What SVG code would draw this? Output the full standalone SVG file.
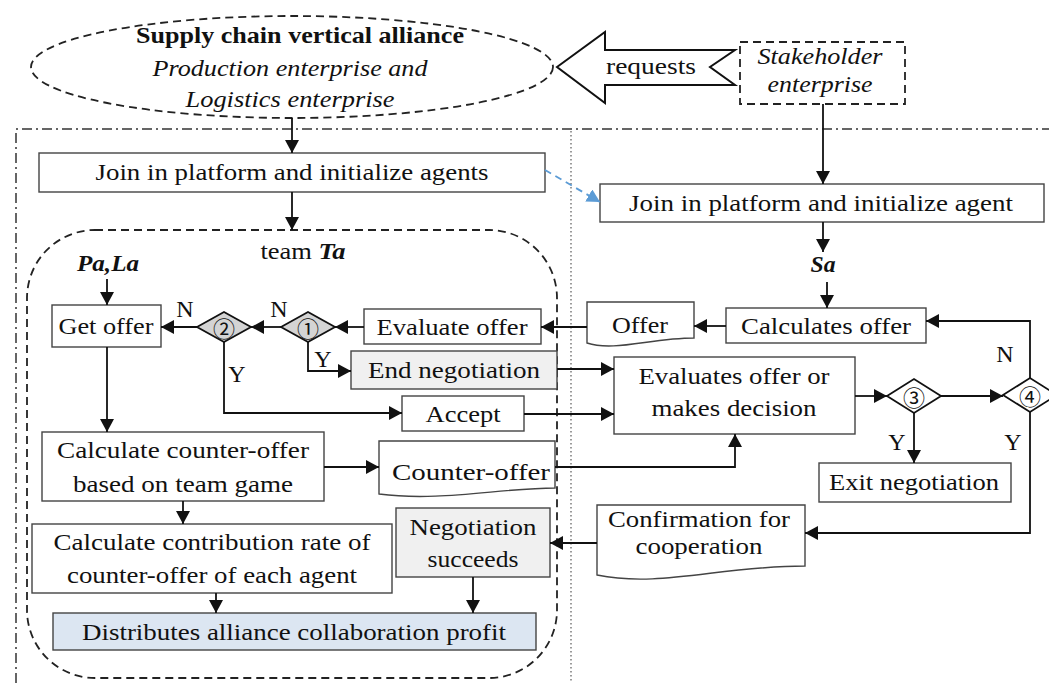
<svg xmlns="http://www.w3.org/2000/svg" width="1049" height="683" viewBox="0 0 1049 683">
<style>
text{font-family:"Liberation Serif","Times New Roman",serif;font-size:24px;fill:#111;text-anchor:middle}
.it{font-style:italic}
.b{font-weight:bold}
.num{font-family:"Noto Sans CJK SC","DejaVu Sans",sans-serif;font-size:22px;dominant-baseline:central}
.box{fill:#fff;stroke:#444;stroke-width:1.4}
.gray{fill:#f0f0f0;stroke:#444;stroke-width:1.4}
.blue{fill:#dce6f2;stroke:#444;stroke-width:1.4}
.dia{fill:#d4d4d4;stroke:#111;stroke-width:1.8}
.diaw{fill:#fff;stroke:#111;stroke-width:1.8}
.dash{fill:none;stroke:#222;stroke-width:1.8;stroke-dasharray:8 5}
.con{fill:none;stroke:#111;stroke-width:1.8}
</style>
<defs>
<marker id="ah" markerUnits="userSpaceOnUse" markerWidth="14" markerHeight="14" refX="13" refY="7" orient="auto">
<path d="M0,0 L13,7 L0,14 z" fill="#111"/>
</marker>
<marker id="ahb" markerUnits="userSpaceOnUse" markerWidth="14" markerHeight="14" refX="13" refY="7" orient="auto">
<path d="M0,0 L13,7 L0,14 z" fill="#5b9bd5"/>
</marker>
</defs>

<!-- frame lines -->
<g id="frame">
<path d="M16,683 V129 H1049" fill="none" stroke="#333" stroke-width="1.5" stroke-dasharray="10 4 2 4"/>
<path d="M571,131 V683" fill="none" stroke="#666" stroke-width="1.3" stroke-dasharray="1.5 2.5"/>
<rect id="team" x="27" y="230" width="530" height="448" rx="68" ry="68" class="dash"/>
<text x="303" y="259" textLength="85" lengthAdjust="spacingAndGlyphs">team <tspan class="it b">Ta</tspan></text>
</g>

<g id="alliance">
<ellipse cx="292" cy="67" rx="261" ry="51" fill="#fff" class="dash"/>
<text x="300" y="43" class="b" textLength="328" lengthAdjust="spacingAndGlyphs">Supply chain vertical alliance</text>
<text x="290" y="76" class="it" textLength="275" lengthAdjust="spacingAndGlyphs">Production enterprise and</text>
<text x="290" y="107" class="it" textLength="209" lengthAdjust="spacingAndGlyphs">Logistics enterprise</text>
</g>

<g id="requests">
<polygon points="557,67 605,32 605,50 735,50 710,67 735,85 605,85 605,103" fill="#fff" stroke="#111" stroke-width="2"/>
<text x="651" y="74" textLength="90" lengthAdjust="spacingAndGlyphs">requests</text>
</g>

<g id="stakeholder">
<rect x="740" y="42" width="165" height="62" fill="#fff" class="dash"/>
<text x="820" y="64" class="it" textLength="125" lengthAdjust="spacingAndGlyphs">Stakeholder</text>
<text x="820" y="92" class="it" textLength="105" lengthAdjust="spacingAndGlyphs">enterprise</text>
</g>

<g id="join1">
<rect x="39" y="153" width="506" height="39" class="box"/>
<text x="292" y="180" textLength="393" lengthAdjust="spacingAndGlyphs">Join in platform and initialize agents</text>
</g>

<g id="join2">
<rect x="600" y="184" width="444" height="38" class="box"/>
<text x="821" y="211" textLength="384" lengthAdjust="spacingAndGlyphs">Join in platform and initialize agent</text>
</g>

<g id="sa">
<text x="823" y="272" class="it b" textLength="25" lengthAdjust="spacingAndGlyphs">Sa</text>
</g>

<g id="pala">
<text x="108" y="271" class="it b" textLength="62" lengthAdjust="spacingAndGlyphs">Pa,La</text>
</g>

<g id="getoffer">
<rect x="52" y="305" width="109" height="42" class="box"/>
<text x="106" y="334" textLength="95" lengthAdjust="spacingAndGlyphs">Get offer</text>
</g>

<g id="d2">
<polygon points="197,327 224,312 251,327 224,342" class="dia"/>
<text x="224" y="327" class="num">②</text>
</g>

<g id="d1">
<polygon points="281,327 308,312 335,327 308,342" class="dia"/>
<text x="308" y="327" class="num">①</text>
</g>

<g id="evaluate">
<rect x="364" y="309" width="177" height="35" class="box"/>
<text x="452" y="335" textLength="151" lengthAdjust="spacingAndGlyphs">Evaluate offer</text>
</g>

<g id="endneg">
<rect x="351" y="351" width="206" height="38" class="gray"/>
<text x="454" y="378" textLength="172" lengthAdjust="spacingAndGlyphs">End negotiation</text>
</g>

<g id="accept">
<rect x="402" y="396" width="122" height="35" class="box"/>
<text x="463" y="422" textLength="75" lengthAdjust="spacingAndGlyphs">Accept</text>
</g>

<g id="offer">
<path d="M587,302 H694 V338 C651,338 614,352 587,343 Z" class="box"/>
<text x="640" y="333" textLength="56" lengthAdjust="spacingAndGlyphs">Offer</text>
</g>

<g id="calcoffer">
<rect x="726" y="308" width="200" height="35" class="box"/>
<text x="826" y="334" textLength="170" lengthAdjust="spacingAndGlyphs">Calculates offer</text>
</g>

<g id="evaluates">
<rect x="614" y="357" width="241" height="77" class="box"/>
<text x="734" y="384" textLength="191" lengthAdjust="spacingAndGlyphs">Evaluates offer or</text>
<text x="734" y="416" textLength="165" lengthAdjust="spacingAndGlyphs">makes decision</text>
</g>

<g id="d3">
<polygon points="887,396 914,379 941,396 914,413" class="diaw"/>
<text x="914" y="396" class="num">③</text>
</g>

<g id="d4">
<polygon points="1003,395 1030,378 1057,395 1030,412" class="diaw"/>
<text x="1030" y="395" class="num">④</text>
</g>

<g id="exitneg">
<rect x="819" y="463" width="192" height="39" class="box"/>
<text x="914" y="490" textLength="170" lengthAdjust="spacingAndGlyphs">Exit negotiation</text>
</g>

<g id="calccounter">
<rect x="42" y="432" width="282" height="69" class="box"/>
<text x="183" y="458" textLength="252" lengthAdjust="spacingAndGlyphs">Calculate counter-offer</text>
<text x="183" y="492" textLength="220" lengthAdjust="spacingAndGlyphs">based on team game</text>
</g>

<g id="counteroffer">
<path d="M379,441 H555 V488 C500,488 440,502 379,494 Z" class="box"/>
<text x="471" y="480" textLength="158" lengthAdjust="spacingAndGlyphs">Counter-offer</text>
</g>

<g id="calccontrib">
<rect x="32" y="524" width="360" height="69" class="box"/>
<text x="212" y="550" textLength="317" lengthAdjust="spacingAndGlyphs">Calculate contribution rate of</text>
<text x="212" y="583" textLength="290" lengthAdjust="spacingAndGlyphs">counter-offer of each agent</text>
</g>

<g id="negsucc">
<rect x="396" y="508" width="154" height="69" class="gray"/>
<text x="473" y="535" textLength="127" lengthAdjust="spacingAndGlyphs">Negotiation</text>
<text x="473" y="567" textLength="91" lengthAdjust="spacingAndGlyphs">succeeds</text>
</g>

<g id="confirm">
<path d="M597,505 H805 V566 C720,566 660,588 597,575 Z" class="box"/>
<text x="699" y="527" textLength="182" lengthAdjust="spacingAndGlyphs">Confirmation for</text>
<text x="699" y="554" textLength="127" lengthAdjust="spacingAndGlyphs">cooperation</text>
</g>

<g id="distributes">
<rect x="53" y="613" width="483" height="37" class="blue"/>
<text x="294" y="640" textLength="424" lengthAdjust="spacingAndGlyphs">Distributes alliance collaboration profit</text>
</g>

<g id="labels">
<text x="185" y="317">N</text>
<text x="279" y="317">N</text>
<text x="323" y="367">Y</text>
<text x="237" y="382">Y</text>
<text x="1005" y="362">N</text>
<text x="897" y="450">Y</text>
<text x="1013" y="450">Y</text>
</g>

<g id="connectors">
<path class="con" d="M292,118 V153" marker-end="url(#ah)"/>
<path class="con" d="M823,104 V184" marker-end="url(#ah)"/>
<path d="M545,170 L600,202" fill="none" stroke="#5b9bd5" stroke-width="1.8" stroke-dasharray="7 5" marker-end="url(#ahb)"/>
<path class="con" d="M292,192 V230" marker-end="url(#ah)"/>
<path class="con" d="M823,222 V252" marker-end="url(#ah)"/>
<path class="con" d="M827,282 V308" marker-end="url(#ah)"/>
<path class="con" d="M107,279 V305" marker-end="url(#ah)"/>
<path class="con" d="M726,326 H694" marker-end="url(#ah)"/>
<path class="con" d="M587,327 H541" marker-end="url(#ah)"/>
<path class="con" d="M364,327 H335" marker-end="url(#ah)"/>
<path class="con" d="M281,327 H251" marker-end="url(#ah)"/>
<path class="con" d="M197,327 H161" marker-end="url(#ah)"/>
<path class="con" d="M308,342 V371 H351" marker-end="url(#ah)"/>
<path class="con" d="M224,342 V413 H402" marker-end="url(#ah)"/>
<path class="con" d="M557,369 H614" marker-end="url(#ah)"/>
<path class="con" d="M524,414 H614" marker-end="url(#ah)"/>
<path class="con" d="M107,347 V432" marker-end="url(#ah)"/>
<path class="con" d="M324,467 H379" marker-end="url(#ah)"/>
<path class="con" d="M555,467 H735 V434" marker-end="url(#ah)"/>
<path class="con" d="M855,396 H887" marker-end="url(#ah)"/>
<path class="con" d="M941,396 H1003" marker-end="url(#ah)"/>
<path class="con" d="M914,413 V463" marker-end="url(#ah)"/>
<path class="con" d="M1030,378 V321 H926" marker-end="url(#ah)"/>
<path class="con" d="M1030,412 V533 H805" marker-end="url(#ah)"/>
<path class="con" d="M597,543 H550" marker-end="url(#ah)"/>
<path class="con" d="M183,501 V524" marker-end="url(#ah)"/>
<path class="con" d="M216,593 V613" marker-end="url(#ah)"/>
<path class="con" d="M473,577 V613" marker-end="url(#ah)"/>
</g>
</svg>
